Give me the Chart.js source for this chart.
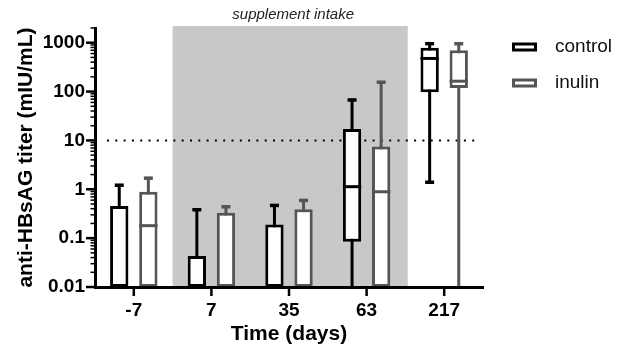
<!DOCTYPE html>
<html><head><meta charset="utf-8">
<script src="https://cdn.jsdelivr.net/npm/chart.js@4"></script>
<style>html,body{margin:0;padding:0;background:#fff}#wrap{width:619px;height:348px}</style>
</head><body><div id="wrap"><canvas id="c" width="619" height="348"></canvas></div>
<script>
// ---- data ----
const categories = ['-7', '7', '35', '63', '217'];
const seriesNames = ['control', 'inulin'];
const controlMin    = [0.01, 0.01, 0.01, 0.01, 1.33];
const controlQ1     = [0.01, 0.01, 0.01, 0.084, 97];
const controlMedian = [0.01, 0.01, 0.01, 1.13, 476];
const controlQ3     = [0.455, 0.043, 0.19, 17.1, 789];
const controlMax    = [1.27, 0.40, 0.49, 70.6, 1000];
const inulinMin     = [0.01, 0.01, 0.01, 0.01, 0.01];
const inulinQ1      = [0.01, 0.01, 0.01, 0.01, 119];
const inulinMedian  = [0.18, 0.01, 0.01, 0.89, 163];
const inulinQ3      = [0.89, 0.33, 0.39, 7.5, 705];
const inulinMax     = [1.77, 0.46, 0.62, 163, 1000];
const yMajorTicks = [0.01, 0.1, 1, 10, 100, 1000];
const yTickLabels = ['0.01', '0.1', '1', '10', '100', '1000'];
const yMin = 0.01, yMax = 2000;
const thresholdValue = 10;
const shadeRange = [0.5, 3.53];
const shadeLabel = 'supplement intake';
const xTitle = 'Time (days)';
const yTitle = 'anti-HBsAG titer (mIU/mL)';

const FONT = "'Liberation Sans', Arial, Helvetica, sans-serif";
const colors = ['#000000', '#555555'];

const stats = [
  {min: controlMin, q1: controlQ1, med: controlMedian, q3: controlQ3, max: controlMax},
  {min: inulinMin, q1: inulinQ1, med: inulinMedian, q3: inulinQ3, max: inulinMax}
];

const isMajor = v => yMajorTicks.some(m => Math.abs(m - v) / m < 1e-6);

const extras = {
  id: 'extras',
  beforeDatasetsDraw(chart) {
    const {ctx, chartArea: a, scales: {x, y}} = chart;
    ctx.save();
    const x0 = x.getPixelForValue(shadeRange[0]);
    const x1 = x.getPixelForValue(shadeRange[1]);
    ctx.fillStyle = '#c8c8c8';
    ctx.fillRect(x0, a.top - 2, x1 - x0, a.bottom - a.top + 2);
    const ty = y.getPixelForValue(thresholdValue);
    ctx.strokeStyle = '#000';
    ctx.lineWidth = 2;
    ctx.setLineDash([2, 6.3]);
    ctx.beginPath();
    ctx.moveTo(a.left + 12, ty);
    ctx.lineTo(a.right - 4, ty);
    ctx.stroke();
    ctx.setLineDash([]);
    chart.data.datasets.forEach((ds, di) => {
      const st = stats[di];
      chart.getDatasetMeta(di).data.forEach((bar, i) => {
        const pMin = y.getPixelForValue(st.min[i]);
        const pMax = y.getPixelForValue(st.max[i]);
        ctx.strokeStyle = ds.borderColor;
        ctx.lineWidth = 3;
        ctx.beginPath();
        ctx.moveTo(bar.x, pMin);
        ctx.lineTo(bar.x, pMax);
        ctx.stroke();
        ctx.lineWidth = 3.5;
        if (st.max[i] > st.q3[i]) {
          ctx.beginPath();
          ctx.moveTo(bar.x - 4.5, pMax + 1);
          ctx.lineTo(bar.x + 4.5, pMax + 1);
          ctx.stroke();
        }
        if (st.min[i] > yMin && st.min[i] < st.q1[i]) {
          ctx.beginPath();
          ctx.moveTo(bar.x - 4.5, pMin - 1);
          ctx.lineTo(bar.x + 4.5, pMin - 1);
          ctx.stroke();
        }
      });
    });
    ctx.restore();
  },
  afterDatasetsDraw(chart) {
    const {ctx, scales: {y}} = chart;
    ctx.save();
    chart.data.datasets.forEach((ds, di) => {
      const st = stats[di];
      chart.getDatasetMeta(di).data.forEach((bar, i) => {
        if (st.med[i] > st.q1[i] && st.med[i] < st.q3[i]) {
          const py = y.getPixelForValue(st.med[i]);
          ctx.strokeStyle = ds.borderColor;
          ctx.lineWidth = 3;
          ctx.beginPath();
          ctx.moveTo(bar.x - bar.width / 2, py);
          ctx.lineTo(bar.x + bar.width / 2, py);
          ctx.stroke();
        }
      });
    });
    ctx.restore();
  },
  afterDraw(chart) {
    const {ctx, chartArea: a, scales: {x, y}} = chart;
    ctx.save();
    ctx.strokeStyle = '#000';
    y.ticks.forEach(t => {
      const py = y.getPixelForValue(t.value);
      const maj = isMajor(t.value);
      ctx.lineWidth = maj ? 2.5 : 1.5;
      ctx.beginPath();
      ctx.moveTo(a.left - (maj ? 9 : 4.5), py);
      ctx.lineTo(a.left - 1, py);
      ctx.stroke();
    });
    categories.forEach((c, i) => {
      const px = x.getPixelForValue(i);
      ctx.lineWidth = 2.5;
      ctx.beginPath();
      ctx.moveTo(px, a.bottom + 1);
      ctx.lineTo(px, a.bottom + 9);
      ctx.stroke();
    });
    const x0 = x.getPixelForValue(shadeRange[0]);
    const x1 = x.getPixelForValue(shadeRange[1]);
    ctx.fillStyle = '#222';
    ctx.font = 'italic 15px ' + FONT;
    ctx.textAlign = 'center';
    ctx.textBaseline = 'alphabetic';
    ctx.fillText(shadeLabel, (x0 + x1) / 2 + 3, a.top - 9);
    chart.data.datasets.forEach((ds, di) => {
      const bx = a.right + 29, cy = a.top + 19 + di * 36;
      ctx.fillStyle = '#fff';
      ctx.fillRect(bx, cy - 4.5, 25, 9);
      ctx.strokeStyle = ds.borderColor;
      ctx.lineWidth = 3;
      ctx.strokeRect(bx + 1.5, cy - 3, 22, 6);
      ctx.fillStyle = '#111';
      ctx.font = '19px ' + FONT;
      ctx.textAlign = 'left';
      ctx.textBaseline = 'middle';
      ctx.fillText(ds.label, bx + 43, cy);
    });
    ctx.restore();
  }
};

new Chart(document.getElementById('c'), {
  type: 'bar',
  data: {
    labels: categories,
    datasets: seriesNames.map((name, di) => ({
      label: name,
      data: categories.map((c, i) => [stats[di].q1[i], stats[di].q3[i]]),
      backgroundColor: '#ffffff',
      borderColor: colors[di],
      borderWidth: 3,
      borderSkipped: false,
      categoryPercentage: 0.75,
      barPercentage: 0.63
    }))
  },
  options: {
    responsive: false,
    devicePixelRatio: 1,
    animation: false,
    layout: {padding: {top: 28, right: 136, bottom: 0, left: 0}},
    plugins: {legend: {display: false}, tooltip: {enabled: false}},
    scales: {
      x: {
        type: 'category',
        grid: {display: false},
        border: {display: true, color: '#000', width: 3, z: 1},
        ticks: {padding: 4, color: '#000', font: {family: FONT, size: 19, weight: 'bold'}},
        title: {display: true, text: xTitle, color: '#000', font: {family: FONT, size: 21, weight: 'bold'}, padding: {top: 0, bottom: 1}},
        afterFit: s => { s.height = 61; }
      },
      y: {
        type: 'logarithmic',
        min: yMin,
        max: yMax,
        afterBuildTicks: s => {
          const t = [];
          for (let e = -2; e <= 3; e++) {
            for (let k = 1; k <= 9; k++) {
              const v = +(k * Math.pow(10, e)).toPrecision(6);
              if (v >= yMin && v <= yMax) t.push({value: v});
            }
          }
          s.ticks = t;
        },
        grid: {display: false},
        border: {display: true, color: '#000', width: 3, z: 1},
        ticks: {
          autoSkip: false, padding: 2, color: '#000',
          font: {family: FONT, size: 19, weight: 'bold'},
          callback: v => { const i = yMajorTicks.findIndex(m => Math.abs(m - v) / m < 1e-6); return i >= 0 ? yTickLabels[i] : ''; }
        },
        title: {display: true, text: yTitle, color: '#000', font: {family: FONT, size: 21, weight: 'bold'}, padding: {top: 14, bottom: 0}},
        afterFit: s => { s.width = 95; }
      }
    }
  },
  plugins: [extras]
});
</script>
</body></html>
